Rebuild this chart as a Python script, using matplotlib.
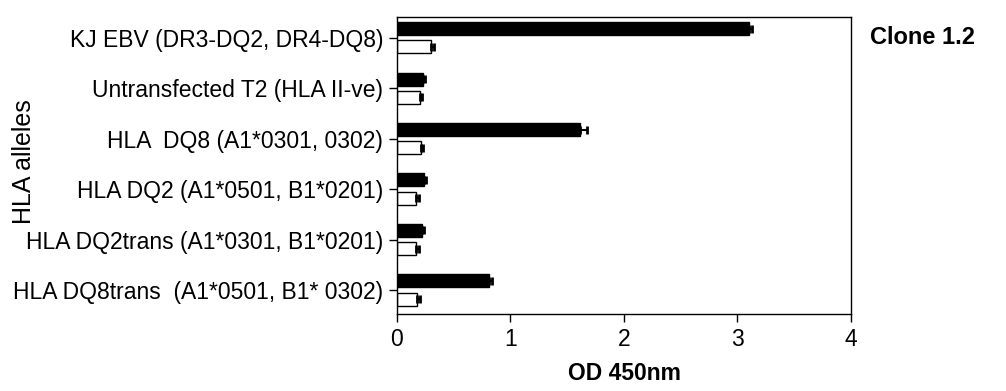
import numpy as np
import matplotlib
matplotlib.use('Agg')
import matplotlib.pyplot as plt

plt.rcParams['font.family'] = ['Liberation Sans', 'DejaVu Sans']

# cell lines, top to bottom
alleles = ['KJ EBV (DR3-DQ2, DR4-DQ8)',
           'Untransfected T2 (HLA II-ve)',
           'HLA  DQ8 (A1*0301, 0302)',
           'HLA DQ2 (A1*0501, B1*0201)',
           'HLA DQ2trans (A1*0301, B1*0201)',
           'HLA DQ8trans  (A1*0501, B1* 0302)']

# OD 450nm with peptide (black) and without (white)
od_black = [3.10, 0.23, 1.61, 0.24, 0.22, 0.81]
err_black = [0.03, 0.02, 0.06, 0.02, 0.02, 0.03]
od_white = [0.30, 0.20, 0.21, 0.17, 0.17, 0.18]
err_white = [0.03, 0.02, 0.02, 0.02, 0.02, 0.02]

fig = plt.figure(figsize=(10.06, 3.91), dpi=100)
ax = fig.add_axes([0.3946, 0.197, 0.4513, 0.7596])

y = np.arange(len(alleles))
h = 0.257
off = 0.18

ax.barh(y - off, od_black, height=h, color='black', edgecolor='black', linewidth=1)
ax.barh(y + off, od_white, height=h, color='white', edgecolor='black', linewidth=1)
ax.errorbar(od_black, y - off, xerr=[np.zeros(6), err_black], fmt='none',
            ecolor='black', elinewidth=1.5, capsize=3, capthick=2)
ax.errorbar(od_white, y + off, xerr=[np.zeros(6), err_white], fmt='none',
            ecolor='black', elinewidth=1.5, capsize=3, capthick=2)

ax.set_xlim(0, 4)
ax.set_xticks([0, 1, 2, 3, 4])
ax.set_ylim(len(alleles) - 1 + 0.475, -0.41)
ax.set_yticks(y)
ax.set_yticklabels(alleles)
ax.tick_params(axis='both', direction='out', length=6, width=1, labelsize=16.5, pad=4)

for s in ax.spines.values():
    s.set_linewidth(1)

ax.set_xlabel('OD 450nm', fontsize=16.5, fontweight='bold', labelpad=8)
fig.text(0.012, 0.586, 'HLA alleles', rotation=90, fontsize=18, va='center', ha='left')
fig.text(0.865, 0.905, 'Clone 1.2', fontsize=17, fontweight='bold', va='center', ha='left')

fig.savefig('out.png', dpi=100)
